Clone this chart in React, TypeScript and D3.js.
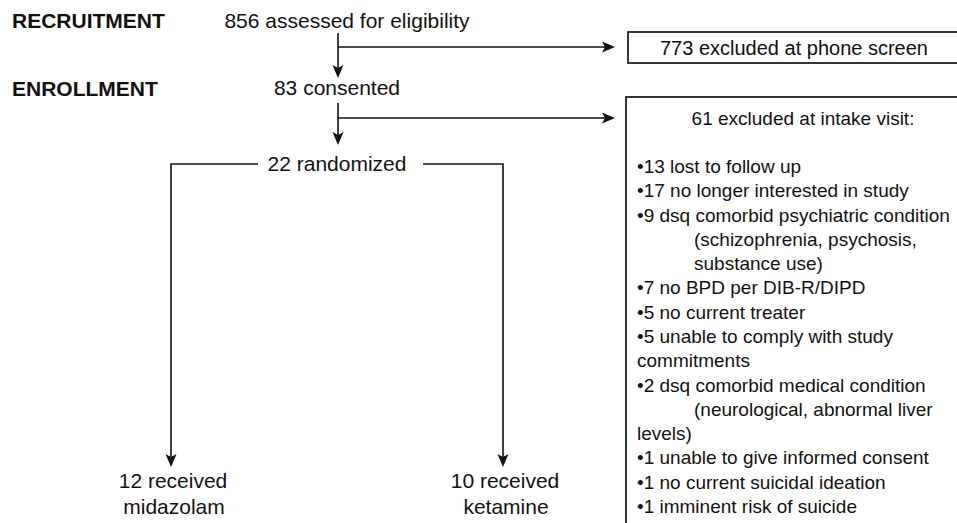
import React from "react";
import * as d3 from "d3";

// ---- data ----
const phaseLabels = ["RECRUITMENT", "ENROLLMENT"];
const stageCounts = [856, 83, 22];
const stageTexts = ["assessed for eligibility", "consented", "randomized"];
const exclusionTotals = [773, 61];
const exclusionTexts = ["excluded at phone screen", "excluded at intake visit:"];
const reasonCounts = [13, 17, 9, 7, 5, 5, 2, 1, 1, 1];
const reasonTexts: string[][] = [
  ["lost to follow up"],
  ["no longer interested in study"],
  ["dsq comorbid psychiatric condition", "\t(schizophrenia, psychosis,", "\tsubstance use)"],
  ["no BPD per DIB-R/DIPD"],
  ["no current treater"],
  ["unable to comply with study", "commitments"],
  ["dsq comorbid medical condition", "\t(neurological, abnormal liver", "levels)"],
  ["unable to give informed consent"],
  ["no current suicidal ideation"],
  ["imminent risk of suicide"],
];
const armCounts = [12, 10];
const armTexts = ["midazolam", "ketamine"];

const W = 957;
const H = 523;
const FONT = "'Liberation Sans', Arial, Helvetica, sans-serif";

function arrowHead(x: number, y: number, dir: "down" | "right") {
  const L = 13, hw = 5.5, notch = 3;
  const p = d3.path();
  if (dir === "down") {
    p.moveTo(x, y);
    p.lineTo(x - hw, y - L);
    p.lineTo(x, y - L + notch);
    p.lineTo(x + hw, y - L);
  } else {
    p.moveTo(x, y);
    p.lineTo(x - L, y - hw);
    p.lineTo(x - L + notch, y);
    p.lineTo(x - L, y + hw);
  }
  p.closePath();
  return p.toString();
}

export default function App() {
  const cx = 338;
  const stageBase = [28, 95, 171];
  const stageCenter = [347, 337, 337];
  const phaseBase = [28, 96];
  const branchY = [47, 118];
  const boxX = [628, 626];
  const boxTop = [32, 97];
  const boxH = [31, 460];
  const arrowTipX = 615;
  const randY = 164;
  const armX = [171, 503];
  const armTipY = 467;

  // flatten the reason list to lines
  const lines: { text: string; indent: boolean }[] = [];
  reasonTexts.forEach((rows, i) => {
    rows.forEach((r, j) => {
      const indent = r.startsWith("\t");
      const t = r.replace(/^\t/, "");
      lines.push({ text: j === 0 ? `•${reasonCounts[i]} ${t}` : t, indent });
    });
  });
  const yLine = d3.scaleLinear().domain([0, lines.length - 1]).range([173, 513]);

  const stroke = "#111";
  const sw = 1.6;

  // vertical segments between stages
  const vSegs = [
    { x: cx, y1: 33, y2: 78 },
    { x: cx, y1: 103, y2: 145 },
  ];

  const randPath = d3.path();
  randPath.moveTo(258, randY);
  randPath.lineTo(armX[0], randY);
  randPath.lineTo(armX[0], armTipY - 10);
  randPath.moveTo(423, randY);
  randPath.lineTo(armX[1], randY);
  randPath.lineTo(armX[1], armTipY - 10);

  return (
    <svg
      width={W}
      height={H}
      viewBox={`0 0 ${W} ${H}`}
      style={{ position: "absolute", left: 0, top: 0, background: "#fff", display: "block" }}
      fontFamily={FONT}
    >
      <rect x={0} y={0} width={W} height={H} fill="#fff" />
      {phaseLabels.map((p, i) => (
        <text key={p} x={12} y={phaseBase[i]} fontSize={21} fontWeight="bold" fill="#111">
          {p}
        </text>
      ))}
      {stageCounts.map((c, i) => (
        <text key={i} x={stageCenter[i]} y={stageBase[i]} fontSize={21} textAnchor="middle" fill="#111">
          {`${c} ${stageTexts[i]}`}
        </text>
      ))}
      {vSegs.map((s, i) => (
        <g key={i}>
          <line x1={s.x} x2={s.x} y1={s.y1} y2={s.y2 - 10} stroke={stroke} strokeWidth={sw} />
          <path d={arrowHead(s.x, s.y2, "down")} fill={stroke} />
          <line x1={s.x} x2={arrowTipX - 10} y1={branchY[i]} y2={branchY[i]} stroke={stroke} strokeWidth={sw} />
          <path d={arrowHead(arrowTipX, branchY[i], "right")} fill={stroke} />
        </g>
      ))}
      {exclusionTotals.map((n, i) => (
        <rect key={i} x={boxX[i]} y={boxTop[i]} width={360} height={boxH[i]} fill="none" stroke="#222" strokeWidth={1.8} />
      ))}
      <text x={794} y={55} fontSize={20} textAnchor="middle" fill="#111">
        {`${exclusionTotals[0]} ${exclusionTexts[0]}`}
      </text>
      <text x={803} y={125} fontSize={19} textAnchor="middle" fill="#111">
        {`${exclusionTotals[1]} ${exclusionTexts[1]}`}
      </text>
      {lines.map((l, i) => (
        <text key={i} x={l.indent ? 694 : 637} y={yLine(i)} fontSize={19} fill="#111">
          {l.text}
        </text>
      ))}
      <path d={randPath.toString()} fill="none" stroke={stroke} strokeWidth={sw} />
      {armX.map((x, i) => (
        <g key={i}>
          <path d={arrowHead(x, armTipY, "down")} fill={stroke} />
          <text x={x + 2} y={488} fontSize={21} textAnchor="middle" fill="#111">
            {`${armCounts[i]} received`}
          </text>
          <text x={x + 3} y={514} fontSize={21} textAnchor="middle" fill="#111">
            {armTexts[i]}
          </text>
        </g>
      ))}
    </svg>
  );
}
